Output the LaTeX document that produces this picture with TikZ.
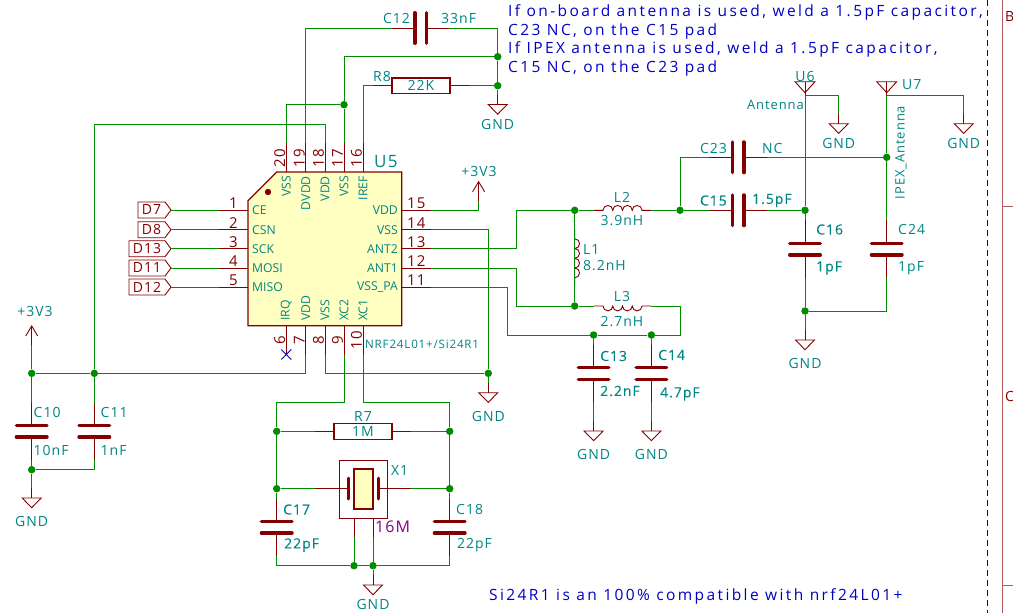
\documentclass[tikz,border=0pt]{standalone}
\usepackage{fontspec}
\setmainfont[LetterSpace=7]{Open Sans}
\newfontfamily\notefont[LetterSpace=15.5]{Open Sans}
\newfontfamily\thickfont[LetterSpace=7,FakeBold=0.25]{Open Sans}
\newfontfamily\pinfont{Open Sans}
\definecolor{wirecol}{RGB}{0,140,0}
\definecolor{pincol}{RGB}{132,0,0}
\definecolor{textcol}{RGB}{0,132,132}
\definecolor{notecol}{RGB}{0,0,194}
\definecolor{bodycol}{RGB}{255,255,194}
\definecolor{valcol}{RGB}{132,0,132}
\definecolor{framecol}{RGB}{176,90,90}
\tikzset{
  wire/.style={draw=wirecol,line width=.9pt},
  pinline/.style={draw=pincol,line width=.9pt},
  dot/.style={circle,fill=wirecol,inner sep=0pt,minimum size=7.5pt},
  lbl/.style={text=textcol,inner sep=0pt,font=\fontsize{14}{14}\selectfont},
  thicklbl/.style={lbl,font=\fontsize{14}{14}\selectfont\thickfont},
  smalllbl/.style={lbl,font=\fontsize{11.6}{12}\selectfont},
  pinlbl/.style={lbl,font=\fontsize{12.2}{13}\selectfont\pinfont},
  antlbl/.style={lbl,font=\fontsize{13}{13}\selectfont},
  numlbl/.style={text=pincol,inner sep=0pt,font=\fontsize{15}{15}\selectfont},
  notelbl/.style={text=notecol,inner sep=0pt,anchor=west,font=\fontsize{15.5}{15.5}\selectfont\notefont},
  plate/.style={draw=pincol,line width=3.4pt,line cap=round},
  pics/gndsym/.style={code={
    \draw[pinline] (0,-10) coordinate (a) -- (0,0);
    \draw[pinline] (-9.5,0) -- (9.5,0) -- (0,9.7) -- cycle;
    \node[lbl] (t) at (0,#1) {GND};
  }},
  pics/gndsym/.default=19.5,
  vccsym/.pic={
    \draw[pinline] (0,19) coordinate (a) -- (0,0);
    \draw[pinline] (-6,10) -- (0,0) -- (6,10);
  },
  capsym/.pic={
    \draw[pinline] (0,-28.7) coordinate (a) -- (0,-5.8);
    \draw[pinline] (0,5.8) -- (0,28.7) coordinate (b);
    \draw[plate] (-15.3,-5.8) -- (15.3,-5.8);
    \draw[plate] (-15.3,5.8) -- (15.3,5.8);
  },
  ressym/.pic={
    \draw[pinline] (-48,0) coordinate (a) -- (-29,0);
    \draw[pinline] (29,0) -- (48,0) coordinate (b);
    \draw[pincol,line width=1.2pt] (-29,-7.8) rectangle (29,7.8);
  },
  coilsym/.pic={
    \draw[pinline] (-28.5,0) coordinate (a) -- (-19.5,0)
      arc[start angle=180,end angle=0,radius=4.875]
      arc[start angle=180,end angle=0,radius=4.875]
      arc[start angle=180,end angle=0,radius=4.875]
      arc[start angle=180,end angle=0,radius=4.875]
      -- (28.5,0) coordinate (b);
  },
  antsym/.pic={
    \draw[pinline] (0,13.5) coordinate (a) -- (0,0);
    \draw[pinline] (-10,0) -- (10,0) -- (0,11) -- cycle;
  }
}
\begin{document}
\begin{tikzpicture}[x=1pt,y=-1pt]
\useasboundingbox (0,0) rectangle (1013,613);
% sheet frame
\draw[notecol,line width=.8pt,dash pattern=on 6pt off 4pt] (987.5,0) -- (987.5,613);
\draw[framecol,line width=1pt] (1002,0) -- (1002,613);
\draw[framecol,line width=1pt] (1002,206.7) -- (1013,206.7);
\draw[framecol,line width=1pt] (1002,585) -- (1013,585);
\node[text=pincol,inner sep=0pt,anchor=west,font=\fontsize{14}{14}\selectfont] (frameB) at (1005,17) {B};
\node[text=pincol,inner sep=0pt,anchor=west,font=\fontsize{14}{14}\selectfont] (frameC) at (1005,396) {C};
% notes
\node[notelbl] (note1) at (508,12.5) {If on-board antenna is used, weld a 1.5pF capacitor,};
\node[notelbl] (note2) at (508,31) {C23 NC, on the C15 pad};
\node[notelbl] (note3) at (508,49.5) {If IPEX antenna is used, weld a 1.5pF capacitor,};
\node[notelbl] (note4) at (508,68) {C15 NC, on the C23 pad};
\node[notelbl] (note5) at (489,596) {Si24R1 is an 100\% compatible with nrf24L01+};
% chip U5
\draw[pincol,line width=1.2pt,fill=bodycol] (276.7,172) -- (401.7,172) -- (401.7,325.7) -- (248,325.7) -- (248,200.7) -- cycle;
\fill[pincol] (268,192) circle (3.2);
\node[lbl,anchor=west,font=\fontsize{17}{17}\selectfont] (U5) at (374,162) {U5};
\node[smalllbl,anchor=west] (U5val) at (365,344.5) {NRF24L01+/Si24R1};
\foreach \n/\y/\t in {1/210/CE,2/229.7/CSN,3/248.7/SCK,4/268/MOSI,5/287/MISO}{
  \draw[pinline] (248,\y) -- (219,\y) coordinate (p\n);
  \node[numlbl] (n\n) at (233.5,\y-6.5) {\n};
  \node[pinlbl,anchor=west] (t\n) at (252,\y) {\t};
}
\foreach \n/\y/\t in {15/210/VDD,14/229.7/VSS,13/248.7/ANT2,12/268/ANT1,11/287/VSS\_PA}{
  \draw[pinline] (401.7,\y) -- (431,\y) coordinate (p\n);
  \node[numlbl] (n\n) at (416.3,\y-6.5) {\n};
  \node[pinlbl,anchor=east] (t\n) at (398,\y) {\t};
}
\foreach \n/\x/\t in {20/286.3/VSS,19/305.7/DVDD,18/325/VDD,17/344/VSS,16/363/IREF}{
  \draw[pinline] (\x,172) -- (\x,143) coordinate (p\n);
  \node[numlbl,rotate=90] (n\n) at (\x-6.5,158) {\n};
  \node[pinlbl,rotate=90,anchor=east] (t\n) at (\x,176) {\t};
}
\foreach \n/\x/\t in {6/286.3/IRQ,7/305.7/VDD,8/325/VSS,9/344/XC2,10/363/XC1}{
  \draw[pinline] (\x,325.7) -- (\x,355) coordinate (p\n);
  \node[numlbl,rotate=90] (n\n) at (\x-6.5,340) {\n};
  \node[pinlbl,rotate=90,anchor=west] (t\n) at (\x,321) {\t};
}
% no connect on pin 6
\draw[notecol,line width=.9pt] (281.3,349.5) -- (291.3,359.5) (281.3,359.5) -- (291.3,349.5);
% input labels
\foreach \n/\y/\l/\t in {1/210/138/D7,2/229.7/138/D8,3/248.7/129/D13,4/268/129/D11,5/287/129/D12}{
  \draw[pinline] (171,\y) coordinate (in\n) -- (165,\y-8) -- (\l,\y-8) -- (\l,\y+8) -- (165,\y+8) -- cycle;
  \node[text=pincol,inner sep=0pt,font=\fontsize{14}{14}\selectfont] (d\n) at ({(\l+165)/2},\y) {\t};
  \draw[wire] (in\n) -- (p\n);
}
% top parts
\pic[rotate=90] (C12) at (420.7,28) {capsym};
\pic (R8) at (421,85.7) {ressym};
\pic (G1) at (497.7,104.5) {gndsym};
\node[lbl,anchor=east] (C12l) at (410,18) {C12};
\node[lbl,anchor=west] (C12v) at (441,18) {33nF};
\node[lbl,anchor=east] (R8l) at (391,76) {R8};
\node[lbl] (R8v) at (421,85.7) {22K};
\node[dot] (j1) at (497.7,56.7) {};
\node[dot] (j2) at (497.7,85.7) {};
\node[dot] (j3) at (344,104.7) {};
\draw[wire] (p19) |- (C12a);
\draw[wire] (C12b) -| (j1);
\draw[wire] (j1) -- (j2);
\draw[wire] (j2) -- (G1a);
\draw[wire] (R8b) -- (j2);
\draw[wire] (p16) |- (R8a);
\draw[wire] (j1) -| (j3);
\draw[wire] (j3) -- (p17);
\draw[wire] (j3) -| (p20);
% supply and decoupling
\pic (V1) at (478.6,181.7) {vccsym};
\node[lbl] (V1t) at (479,171.7) {+3V3};
\draw[wire] (p15) -| (V1a);
\pic (V2) at (31.7,326) {vccsym};
\node[lbl] (V2t) at (35,311.7) {+3V3};
\pic (C10) at (31.7,431.2) {capsym};
\pic (C11) at (94.3,431.2) {capsym};
\node[lbl,anchor=west] (C10l) at (33.5,412) {C10};
\node[lbl,anchor=west] (C10v) at (33.5,450) {10nF};
\node[lbl,anchor=west] (C11l) at (100.5,412) {C11};
\node[lbl,anchor=west] (C11v) at (100.5,450) {1nF};
\pic (G2) at (31.7,498) {gndsym=23.3};
\node[dot] (j4) at (31.7,373.3) {};
\node[dot] (j5) at (94.3,373.3) {};
\node[dot] (j6) at (31.7,469.7) {};
\coordinate (top18) at (94.3,124);
\draw[wire] (V2a) -- (j4);
\draw[wire] (j4) -- (j5);
\draw[wire] (j4) -- (C10a);
\draw[wire] (j5) -- (C11a);
\draw[wire] (C10b) -- (j6);
\draw[wire] (j6) -| (C11b);
\draw[wire] (j6) -- (G2a);
\draw[wire] (j5) -- (top18) -| (p18);
\draw[wire] (j5) -| (p7);
% ground bus of the chip
\node[dot] (j7) at (488.3,373.3) {};
\pic (G3) at (488.3,392.7) {gndsym=23.3};
\draw[wire] (p14) -| (j7);
\draw[wire] (p8) |- (j7);
\draw[wire] (j7) -- (G3a);
% crystal
\pic (R7) at (363,431.3) {ressym};
\node[lbl] (R7l) at (363,416.5) {R7};
\node[lbl] (R7v) at (363,431.3) {1M};
\node[dot] (j8) at (276.7,431.3) {};
\node[dot] (j9) at (449.7,431.3) {};
\node[dot] (j10) at (276.7,488.7) {};
\node[dot] (j11) at (449.7,488.7) {};
\node[dot] (j12) at (354,565.7) {};
\node[dot] (j13) at (373,565.7) {};
\draw[pincol,line width=1pt] (339,460) rectangle (387,518);
\draw[pincol,line width=2pt,fill=bodycol] (354.3,469) rectangle (372.7,508.7);
\draw[pincol,line width=3pt,line cap=round] (348.7,478) -- (348.7,499);
\draw[pincol,line width=3pt,line cap=round] (378,478) -- (378,499);
\draw[pinline] (315,488.7) coordinate (x1a) -- (348.7,488.7);
\draw[pinline] (378,488.7) -- (411,488.7) coordinate (x1b);
\draw[pinline] (354,518) -- (354,536.7) coordinate (x1c);
\draw[pinline] (373,518) -- (373,536.7) coordinate (x1d);
\node[lbl,anchor=west] (X1l) at (391,470.5) {X1};
\node[text=valcol,inner sep=0pt,anchor=west,font=\fontsize{16}{16}\selectfont] (X1v) at (375,527) {16M};
\pic (C17) at (276.7,527.3) {capsym};
\pic (C18) at (449.7,527.3) {capsym};
\node[thicklbl,anchor=west] (C17l) at (283,509.5) {C17};
\node[thicklbl,anchor=west] (C17v) at (284,545) {22pF};
\node[lbl,anchor=west] (C18l) at (456,509.5) {C18};
\node[lbl,anchor=west] (C18v) at (457,545) {22pF};
\pic (G4) at (373,585) {gndsym};
\coordinate (xl) at (276.7,402.5);
\coordinate (xr) at (449.7,402.5);
\draw[wire] (p9) |- (xl) -- (j8);
\draw[wire] (p10) |- (xr) -- (j9);
\draw[wire] (j8) -- (R7a);
\draw[wire] (R7b) -- (j9);
\draw[wire] (j8) -- (j10);
\draw[wire] (j9) -- (j11);
\draw[wire] (j10) -- (x1a);
\draw[wire] (x1b) -- (j11);
\draw[wire] (j10) -- (C17a);
\draw[wire] (j11) -- (C18a);
\draw[wire] (x1c) -- (j12);
\draw[wire] (x1d) -- (j13);
\draw[wire] (C17b) |- (j12);
\draw[wire] (j12) -- (j13);
\draw[wire] (j13) -| (C18b);
\draw[wire] (j13) -- (G4a);
% matching network
\pic[yscale=-1] (L2) at (622.5,210.3) {coilsym};
\pic (L3) at (622.5,306) {coilsym};
\pic[rotate=90] (L1) at (574.7,258.3) {coilsym};
\node[lbl] (L2l) at (622,197) {L2};
\node[lbl] (L2v) at (622,220.5) {3.9nH};
\node[lbl] (L3l) at (622,296) {L3};
\node[lbl] (L3v) at (622,321.5) {2.7nH};
\node[lbl,anchor=west] (L1l) at (583,250) {L1};
\node[lbl,anchor=west] (L1v) at (583,266) {8.2nH};
\node[dot] (j14) at (574.7,210.3) {};
\node[dot] (j15) at (574.7,306) {};
\node[dot] (j16) at (680,210.3) {};
\node[dot] (j17) at (593.6,335) {};
\node[dot] (j18) at (651.4,335) {};
\coordinate (a13) at (516.7,210.3);
\coordinate (a12) at (516.7,306);
\coordinate (c11) at (507,335);
\coordinate (l3r) at (680,335);
\draw[wire] (p13) -| (a13) -- (j14);
\draw[wire] (p12) -| (a12) -- (j15);
\draw[wire] (j14) -- (L1a);
\draw[wire] (L1b) -- (j15);
\draw[wire] (j14) -- (L2a);
\draw[wire] (L2b) -- (j16);
\draw[wire] (j15) -- (L3a);
\draw[wire] (L3b) -| (l3r) -- (j18);
\draw[wire] (p11) -| (c11) -- (j17);
\draw[wire] (j17) -- (j18);
\pic (C13) at (593.6,373.5) {capsym};
\pic (C14) at (651.4,373.5) {capsym};
\pic (G5) at (593.6,431) {gndsym=23.3};
\pic (G6) at (651.4,431) {gndsym=23.3};
\node[thicklbl,anchor=west] (C13l) at (600,356) {C13};
\node[thicklbl,anchor=west] (C13v) at (600,391) {2.2nF};
\node[thicklbl,anchor=west] (C14l) at (658,355) {C14};
\node[thicklbl,anchor=west] (C14v) at (660,394) {4.7pF};
\draw[wire] (j17) -- (C13a);
\draw[wire] (j18) -- (C14a);
\draw[wire] (C13b) -- (G5a);
\draw[wire] (C14b) -- (G6a);
% antenna side
\pic[rotate=90] (C23) at (738,157.3) {capsym};
\pic[rotate=90] (C15) at (738,210.3) {capsym};
\node[lbl,anchor=east] (C23l) at (727,148) {C23};
\node[lbl,anchor=west] (C23v) at (762,148) {NC};
\node[thicklbl,anchor=east] (C15l) at (727,200.5) {C15};
\node[thicklbl,anchor=west] (C15v) at (752,200.5) {1.5pF};
\pic (U6) at (805,81.7) {antsym};
\pic (U7) at (886.7,81.7) {antsym};
\node[lbl] (U6l) at (805,76) {U6};
\node[antlbl,anchor=east] (U6v) at (804,105) {Antenna};
\node[lbl,anchor=west] (U7l) at (902,85) {U7};
\node[antlbl,rotate=90] (U7v) at (901,152.5) {IPEX\_Antenna};
\pic (G7) at (838.7,123.7) {gndsym};
\pic (G8) at (963.7,123.7) {gndsym};
\pic (C16) at (805,249) {capsym};
\pic (C24) at (886.7,249) {capsym};
\node[thicklbl,anchor=west] (C16l) at (816,229.5) {C16};
\node[thicklbl,anchor=west] (C16v) at (816,268) {1pF};
\node[lbl,anchor=west] (C24l) at (898,229.5) {C24};
\node[lbl,anchor=west] (C24v) at (898,268) {1pF};
\pic (G9) at (805,340) {gndsym=23.3};
\node[dot] (j19) at (805,210.3) {};
\node[dot] (j20) at (886.7,157.3) {};
\node[dot] (j21) at (805,311) {};
\draw[wire] (j16) |- (C23a);
\draw[wire] (C23b) -- (j20);
\draw[wire] (j16) -- (C15a);
\draw[wire] (C15b) -- (j19);
\draw[wire] (U6a) -- (j19);
\draw[wire] (U7a) -- (j20);
\draw[wire] (j19) -- (C16a);
\draw[wire] (j20) -- (C24a);
\draw[wire] (U6a) -| (G7a);
\draw[wire] (U7a) -| (G8a);
\draw[wire] (C16b) -- (j21);
\draw[wire] (C24b) |- (j21);
\draw[wire] (j21) -- (G9a);
\end{tikzpicture}
\end{document}
